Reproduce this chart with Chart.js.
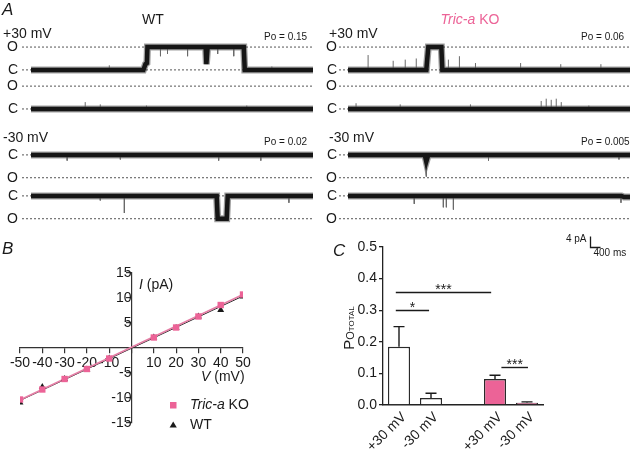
<!DOCTYPE html>
<html>
<head>
<meta charset="utf-8">
<script src="https://cdn.jsdelivr.net/npm/chart.js@4.4.0/dist/chart.umd.min.js"></script>
<style>
  body { margin: 0; background: #fff; width: 633px; height: 453px; position: relative; overflow: hidden; }
  canvas { position: absolute; }
</style>
</head>
<body>
<canvas id="wtTraces" width="316" height="262" style="left:0;top:0"></canvas>
<canvas id="koTraces" width="316" height="262" style="left:317px;top:0"></canvas>
<canvas id="ivPlot" width="316" height="218" style="left:0;top:235px"></canvas>
<canvas id="poBars" width="313" height="218" style="left:320px;top:235px"></canvas>
<script>
// ---- A: single channel records, [time ms, state] with 0 = closed, 1 = open ----
const wtPlus1 = [[0,0],[4480,0],[4560,0.25],[4620,0.3],[4640,1],[6960,1],[6990,0.25],[7040,1],[8480,1],[8520,0],[11240,0]];
const wtPlus2 = [[0,0],[11240,0]];
const wtMinus1 = [[0,0],[11240,0]];
const wtMinus2 = [[0,0],[7400,0],[7440,1],[7800,1],[7840,0],[11240,0]];
const koPlus1 = [[0,0],[3120,0],[3200,1],[3720,1],[3760,0],[11240,0]];
const koPlus2 = [[0,0],[11240,0]];
const koMinus1 = [[0,0],[3060,0],[3120,0.3],[3200,0],[11240,0]];
const koMinus2 = [[0,0],[10900,0],[11000,0.05],[11240,0.05]];

// brief flickers, [time ms, state reached]
const wtPlus1Spikes = [[3120,0.2],[5160,0.6],[5440,0.7],[6240,0.6],[7440,0.7],[8080,0.6],[9600,0.15]];
const wtPlus2Spikes = [[2160,0.3],[2760,0.2],[4600,0.15],[8600,0.15]];
const wtMinus1Spikes = [[1440,0.25],[3560,0.2],[7480,0.25],[9160,0.25]];
const wtMinus2Spikes = [[2760,0.2],[3720,0.75],[10280,0.3]];
const koPlus1Spikes = [[800,0.65],[1800,0.4],[2280,0.45],[2720,0.5],[4000,0.45],[4440,0.6],[5080,0.3],[6880,0.3],[8480,0.25],[10080,0.25]];
const koPlus2Spikes = [[320,0.25],[2080,0.2],[4880,0.2],[7700,0.35],[7900,0.45],[8100,0.4],[8300,0.45],[8500,0.3],[9600,0.15]];
const koMinus1Spikes = [[3120,0.95],[5600,0.25],[10800,0.2]];
const koMinus2Spikes = [[2640,0.35],[3800,0.5],[3920,0.5],[4200,0.6],[10880,0.3]];

const wtPo = ['0.15', '0.02'];
const koPo = ['0.06', '0.005'];

// ---- B: current-voltage relation ----
const ivVoltage = [-50, -40, -30, -20, -10, 10, 20, 30, 40, 50];
const ivKO = [-10.3, -8.3, -6.2, -4.2, -2.1, 2.1, 4.1, 6.3, 8.6, 10.7];
const ivWT = [-10.9, -7.8, -6.2, -4.3, -2.1, 2.1, 4.0, 6.3, 7.6, 10.3];
const fitVoltage = [-50, 50];
const fitKO = [-10.4, 10.7];
const fitWT = [-10.5, 10.4];

// ---- C: open probability ----
const poLabels = ['+30 mV', '-30 mV', '', '+30 mV', '-30 mV'];
const poMean = [0.184, 0.022, null, 0.082, 0.007];
const poSem = [0.064, 0.015, null, 0.012, 0.003];
const sigFrom = [-0.1, -0.1, 3.2];
const sigTo = [2.88, 0.94, 4.03];
const sigLevel = [0.359, 0.302, 0.121];
const sigText = ['***', '*', '***'];

const FONT = '"Liberation Sans", Arial, Helvetica, sans-serif';
const PINK = '#ec6397';
const INK = '#1a1a1a';

// layout of the record rows (pA)
const rowBase = [58.2, 44.0, 27.3, 12.4];
const rowSign = [1, 1, -1, -1];
const unitAmp = 8.3;
const T_MIN = -360, T_MAX = 11240;

function levelAt(events, t) {
  let s = events[0][1];
  for (const [et, es] of events) { if (et <= t) s = es; }
  return s;
}

function traceDatasets(records, spikes) {
  const sets = [];
  records.forEach((ev, r) => {
    const toY = s => rowBase[r] + rowSign[r] * unitAmp * s;
    const pts = ev.map(([t, s]) => ({ x: t, y: toY(s) }));
    // dark core of the noisy record
    sets.push({ data: pts, borderColor: '#161616', borderWidth: 4.5, borderCapStyle: 'butt' });
    const sp = [];
    spikes[r].forEach(([t, s]) => {
      sp.push({ x: t, y: toY(levelAt(ev, t)) }, { x: t, y: toY(s) }, { x: t, y: null });
    });
    sets.push({ data: sp, borderColor: '#6a6a6a', borderWidth: 1, spanGaps: false });
    // lighter noise fringe
    sets.push({ data: pts, borderColor: 'rgba(40,40,40,0.45)', borderWidth: 7, borderCapStyle: 'butt' });
  });
  records.forEach((ev, r) => {
    [0, 1].forEach(s => {
      const y = rowBase[r] + rowSign[r] * unitAmp * s;
      sets.push({
        data: [{ x: T_MIN, y: y }, { x: T_MAX, y: y }],
        borderColor: '#555', borderWidth: 1, borderDash: [2, 2]
      });
    });
  });
  return sets;
}

const traceLabels = {
  id: 'traceLabels',
  afterDraw(chart, args, opts) {
    const { ctx, chartArea, scales: { x, y } } = chart;
    ctx.save();
    ctx.fillStyle = INK;
    ctx.textBaseline = 'middle';
    ctx.font = '14px ' + FONT;
    ctx.textAlign = 'right';
    rowBase.forEach((b, r) => {
      ctx.fillText('C', chartArea.left - opts.gap, y.getPixelForValue(b));
      ctx.fillText('O', chartArea.left - opts.gap, y.getPixelForValue(b + rowSign[r] * unitAmp));
    });
    ctx.textAlign = 'left';
    ctx.fillText('+30 mV', opts.textLeft, 34);
    ctx.fillText('-30 mV', opts.textLeft, 138);
    ctx.font = '10px ' + FONT;
    ctx.fillText('Po = ' + opts.po[0], chartArea.right - 49, 37);
    ctx.fillText('Po = ' + opts.po[1], chartArea.right - 49, 142);

    // title
    ctx.font = '14px ' + FONT;
    if (opts.title === 'WT') {
      ctx.textAlign = 'center';
      ctx.fillText('WT', 153, 20);
      ctx.font = 'italic 17px ' + FONT;
      ctx.textAlign = 'left';
      ctx.fillText('A', 2, 10);
    } else {
      ctx.fillStyle = PINK;
      ctx.font = 'italic 14px ' + FONT;
      const w1 = ctx.measureText('Tric-a').width;
      ctx.font = '14px ' + FONT;
      const w2 = ctx.measureText(' KO').width;
      const x0 = 153 - (w1 + w2) / 2;
      ctx.font = 'italic 14px ' + FONT;
      ctx.fillText('Tric-a', x0, 20);
      ctx.font = '14px ' + FONT;
      ctx.fillText(' KO', x0 + w1, 20);

      // scale bar: 4 pA, 400 ms
      const h = y.getPixelForValue(0) - y.getPixelForValue(4);
      const w = x.getPixelForValue(400) - x.getPixelForValue(0);
      const bx = 273.5, by = 247.5;
      ctx.strokeStyle = INK;
      ctx.lineWidth = 1.3;
      ctx.beginPath();
      ctx.moveTo(bx, by - h);
      ctx.lineTo(bx, by);
      ctx.lineTo(bx + w, by);
      ctx.stroke();
      ctx.fillStyle = INK;
      ctx.font = '10px ' + FONT;
      ctx.textAlign = 'right';
      ctx.fillText('4 pA', bx - 4, by - 8);
      ctx.textAlign = 'left';
      ctx.fillText('400 ms', bx + 3, by + 6);
    }
    ctx.restore();
  }
};

function traceChart(id, records, spikes, opts) {
  return new Chart(document.getElementById(id), {
    type: 'scatter',
    data: { datasets: traceDatasets(records, spikes) },
    options: {
      responsive: false, animation: false, devicePixelRatio: 1, events: [],
      showLine: true,
      elements: { point: { radius: 0 }, line: { tension: 0 } },
      layout: { padding: { left: 22, right: 3, top: 30, bottom: 32 } },
      plugins: { legend: { display: false }, tooltip: { enabled: false }, traceLabels: opts },
      scales: {
        x: { type: 'linear', display: false, min: T_MIN, max: T_MAX },
        y: { type: 'linear', display: false, min: 0, max: 72.7 }
      }
    },
    plugins: [traceLabels]
  });
}

traceChart('wtTraces', [wtPlus1, wtPlus2, wtMinus1, wtMinus2],
  [wtPlus1Spikes, wtPlus2Spikes, wtMinus1Spikes, wtMinus2Spikes],
  { title: 'WT', po: wtPo, textLeft: 3, gap: 4 });
traceChart('koTraces', [koPlus1, koPlus2, koMinus1, koMinus2],
  [koPlus1Spikes, koPlus2Spikes, koMinus1Spikes, koMinus2Spikes],
  { title: 'KO', po: koPo, textLeft: 12, gap: 2 });

// ---- B ----
const ivLabels = {
  id: 'ivLabels',
  afterDraw(chart) {
    const { ctx } = chart;
    ctx.save();
    ctx.fillStyle = INK;
    ctx.textBaseline = 'middle';
    ctx.textAlign = 'left';
    ctx.font = 'italic 17px ' + FONT;
    ctx.fillText('B', 2, 14);

    ctx.font = 'italic 14px ' + FONT;
    ctx.fillText('I', 139, 50);
    let w = ctx.measureText('I').width;
    ctx.font = '14px ' + FONT;
    ctx.fillText(' (pA)', 139 + w, 50);

    ctx.font = 'italic 14px ' + FONT;
    ctx.fillText('V', 201, 142);
    w = ctx.measureText('V').width;
    ctx.font = '14px ' + FONT;
    ctx.fillText(' (mV)', 201 + w, 142);

    // legend
    ctx.fillStyle = PINK;
    ctx.fillRect(170, 167, 6.5, 6.5);
    ctx.fillStyle = INK;
    ctx.beginPath();
    ctx.moveTo(173.2, 186.5);
    ctx.lineTo(176.8, 192.5);
    ctx.lineTo(169.6, 192.5);
    ctx.closePath();
    ctx.fill();
    ctx.font = 'italic 14px ' + FONT;
    ctx.fillText('Tric-a', 190, 170.5);
    w = ctx.measureText('Tric-a').width;
    ctx.font = '14px ' + FONT;
    ctx.fillText(' KO', 190 + w, 170.5);
    ctx.fillText('WT', 190, 190.5);
    ctx.restore();
  }
};

new Chart(document.getElementById('ivPlot'), {
  type: 'scatter',
  data: {
    datasets: [
      { data: ivVoltage.map((v, i) => ({ x: v, y: ivKO[i] })), pointStyle: 'rect', pointRadius: 4.5,
        backgroundColor: PINK, borderColor: PINK, borderWidth: 0 },
      { data: ivVoltage.map((v, i) => ({ x: v, y: ivWT[i] })), pointStyle: 'triangle', pointRadius: 4,
        backgroundColor: INK, borderColor: INK, borderWidth: 0 },
      { data: fitVoltage.map((v, i) => ({ x: v, y: fitKO[i] })), showLine: true, pointRadius: 0,
        borderColor: '#e57fa6', borderWidth: 1.6 },
      { data: fitVoltage.map((v, i) => ({ x: v, y: fitWT[i] })), showLine: true, pointRadius: 0,
        borderColor: '#222', borderWidth: 1 }
    ]
  },
  options: {
    responsive: false, animation: false, devicePixelRatio: 1, events: [],
    layout: { padding: { left: 20, right: 73, top: 38, bottom: 30 } },
    plugins: { legend: { display: false }, tooltip: { enabled: false } },
    scales: {
      x: {
        type: 'linear', min: -50, max: 50, position: { y: 0 },
        grid: { drawOnChartArea: false, tickLength: 5, color: '#333', lineWidth: 1.2 },
        border: { color: '#333', width: 1.2 },
        ticks: { stepSize: 10, autoSkip: false, maxRotation: 0, padding: 2, color: INK,
          font: { family: FONT, size: 14 }, callback: v => (v === 0 ? '' : v) }
      },
      y: {
        type: 'linear', min: -15, max: 15, position: { x: 0 },
        grid: { drawOnChartArea: false, tickLength: 5, color: '#333', lineWidth: 1.2 },
        border: { color: '#333', width: 1.2 },
        ticks: { stepSize: 5, padding: 1, color: INK,
          font: { family: FONT, size: 14 }, callback: v => (v === 0 ? '' : v) }
      }
    }
  },
  plugins: [ivLabels]
});

// ---- C ----
const poExtras = {
  id: 'poExtras',
  afterDatasetsDraw(chart) {
    const { ctx, scales: { x, y } } = chart;
    const meta = chart.getDatasetMeta(0);
    ctx.save();
    ctx.strokeStyle = INK;
    ctx.lineWidth = 1.4;
    poMean.forEach((m, i) => {
      if (m === null) return;
      const bx = meta.data[i].x;
      const y0 = y.getPixelForValue(m);
      const y1 = y.getPixelForValue(m + poSem[i]);
      ctx.beginPath();
      ctx.moveTo(bx, y0);
      ctx.lineTo(bx, y1);
      ctx.moveTo(bx - 5.5, y1);
      ctx.lineTo(bx + 5.5, y1);
      ctx.stroke();
    });
    ctx.fillStyle = INK;
    ctx.font = '14px ' + FONT;
    ctx.textAlign = 'center';
    ctx.textBaseline = 'alphabetic';
    sigLevel.forEach((lv, i) => {
      const x0 = x.getPixelForValue(sigFrom[i]);
      const x1 = x.getPixelForValue(sigTo[i]);
      const yy = Math.round(y.getPixelForValue(lv)) + 0.5;
      ctx.beginPath();
      ctx.moveTo(x0, yy);
      ctx.lineTo(x1, yy);
      ctx.stroke();
      ctx.fillText(sigText[i], (x0 + x1) / 2, yy + 1);
    });

    // panel letter and axis title
    ctx.textBaseline = 'middle';
    ctx.textAlign = 'left';
    ctx.font = 'italic 17px ' + FONT;
    ctx.fillText('C', 13, 16);
    ctx.translate(29, 93);
    ctx.rotate(-Math.PI / 2);
    const parts = [['P', 15], ['O', 11], ['TOTAL', 8]];
    let total = 0;
    parts.forEach(p => { ctx.font = p[1] + 'px ' + FONT; total += ctx.measureText(p[0]).width; });
    let px = -total / 2;
    ctx.textBaseline = 'alphabetic';
    parts.forEach(p => {
      ctx.font = p[1] + 'px ' + FONT;
      ctx.fillText(p[0], px, 5);
      px += ctx.measureText(p[0]).width;
    });
    ctx.restore();
  }
};

new Chart(document.getElementById('poBars'), {
  type: 'bar',
  data: {
    labels: poLabels,
    datasets: [{
      data: poMean,
      backgroundColor: c => (c.dataIndex >= 3 ? PINK : '#ffffff'),
      borderColor: '#2a2a2a', borderWidth: 1.4,
      barPercentage: 0.69, categoryPercentage: 1
    }]
  },
  options: {
    responsive: false, animation: false, devicePixelRatio: 1, events: [],
    layout: { padding: { left: 0, right: 90, top: 12, bottom: 0 } },
    plugins: { legend: { display: false }, tooltip: { enabled: false } },
    scales: {
      x: {
        grid: { display: false, drawTicks: false },
        border: { color: '#222', width: 1.5 },
        ticks: { autoSkip: false, maxRotation: 45, minRotation: 45, padding: 4, labelOffset: 5,
          color: INK, font: { family: FONT, size: 14 } },
        afterFit(s) { s.height = 48; }
      },
      y: {
        min: 0, max: 0.5,
        grid: { drawOnChartArea: false, tickLength: 4, color: '#222', lineWidth: 1.3 },
        border: { color: '#222', width: 1.3 },
        ticks: { stepSize: 0.1, padding: 2, color: INK, font: { family: FONT, size: 14 },
          callback: v => v.toFixed(1) },
        afterFit(s) { s.width = 63; }
      }
    }
  },
  plugins: [poExtras]
});
</script>
</body>
</html>
